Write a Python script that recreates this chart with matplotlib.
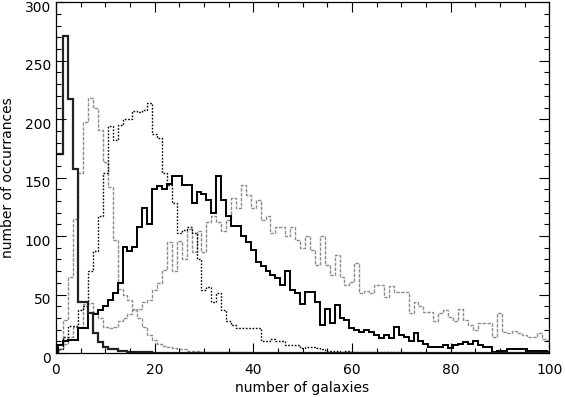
import numpy as np
import matplotlib
matplotlib.use('Agg')
import matplotlib.pyplot as pyplot
import matplotlib.transforms as mtransforms
from matplotlib.ticker import MultipleLocator

# bin centres 0..100 (number of galaxies)
galaxies = np.arange(0, 101)

# thick solid, peak at 2
hist_a = [170, 170, 271, 217, 157, 44, 44, 34, 17, 9, 5, 3, 3, 2, 2, 1, 1, 1, 1, 1] + [0] * 81

# grey dashed, peak near 7
hist_b = [0, 8, 28, 65, 115, 154, 198, 218, 210, 191, 163, 142, 97, 55, 50, 45, 38, 30, 22, 15,
          11, 8, 6, 5, 4, 3, 3, 2, 2, 2, 1, 1, 1, 1, 1, 1, 1, 1, 1, 1] + [0] * 61

# dotted, peak near 19
hist_c = [0, 3, 14, 23, 23, 37, 40, 70, 87, 117, 154, 194, 182, 195, 200, 200, 207, 206, 208, 214,
          187, 184, 154, 144, 128, 103, 105, 108, 103, 80, 54, 56, 44, 51, 37, 27, 24, 21, 21, 21,
          21, 21, 10, 10, 12, 10, 10, 7, 7, 7, 4, 5, 5, 4, 3, 2, 2, 2, 1, 2,
          1, 1, 1, 1, 1, 1, 1, 1, 1, 1, 1] + [0] * 30

# thick solid, broad peak near 25-33
hist_d = [0, 7, 10, 11, 11, 21, 21, 34, 33, 37, 40, 45, 51, 60, 91, 87, 91, 108, 124, 110,
          140, 143, 140, 145, 151, 151, 144, 144, 128, 138, 136, 131, 120, 151, 131, 117, 109, 109, 100, 95,
          88, 78, 74, 70, 67, 64, 58, 70, 54, 51, 42, 52, 52, 44, 24, 38, 26, 41, 30, 28,
          21, 20, 18, 20, 18, 15, 13, 15, 13, 22, 15, 14, 10, 17, 10, 8, 5, 5, 5, 7,
          4, 7, 8, 9, 8, 10, 7, 5, 5, 1, 2, 2, 3, 3, 3, 3, 2, 2, 2, 2, 1]

# grey dashed, broad peak near 38
hist_e = [0, 3, 8, 14, 22, 22, 42, 43, 35, 30, 22, 21, 22, 27, 30, 33, 37, 38, 44, 45,
          54, 60, 71, 95, 70, 96, 80, 106, 86, 104, 86, 112, 117, 112, 104, 114, 133, 124, 144, 135,
          124, 131, 114, 117, 103, 108, 108, 100, 108, 97, 90, 100, 88, 75, 100, 75, 67, 84, 65, 58,
          61, 77, 51, 53, 51, 58, 58, 48, 57, 52, 52, 52, 34, 44, 40, 35, 35, 27, 34, 37,
          31, 27, 38, 28, 24, 20, 26, 26, 26, 14, 34, 18, 17, 19, 17, 15, 14, 14, 17, 12, 10]

pyplot.rcParams.update({'font.size': 10, 'font.family': 'DejaVu Sans'})
fig = pyplot.figure(figsize=(5.65, 3.97), dpi=100)
ax = fig.add_axes([0.099, 0.111, 0.873, 0.883])

edges = np.append(galaxies - 0.5, galaxies[-1] + 0.5)
grey = '#8c8c8c'
ax.stairs(hist_e, edges, color=grey, lw=1.0, ls=(0, (2.5, 1)))
ax.stairs(hist_b, edges, color=grey, lw=1.0, ls=(0, (2.5, 1)))
ax.stairs(hist_c, edges, color='black', lw=1.0, ls=(0, (1.2, 1.2)))
ax.stairs(hist_d, edges, color='black', lw=1.4)
ax.stairs(hist_a, edges, color='#222222', lw=1.6)

ax.set_xlim(0, 100)
ax.set_ylim(0, 300)
ax.xaxis.set_major_locator(MultipleLocator(20))
ax.xaxis.set_minor_locator(MultipleLocator(5))
ax.yaxis.set_major_locator(MultipleLocator(50))
ax.yaxis.set_minor_locator(MultipleLocator(10))
ax.tick_params(which='both', direction='in', top=True, right=True, width=0.8)
ax.tick_params(which='major', length=7)
ax.tick_params(which='minor', length=3.5)
ax.tick_params(axis='x', pad=7)
for s in ax.spines.values():
	s.set_linewidth(0.9)

# y tick labels sit a little below their ticks, as in the original
shift = mtransforms.ScaledTranslation(0, -3 / 72, fig.dpi_scale_trans)
for lab in ax.get_yticklabels():
	lab.set_transform(lab.get_transform() + shift)

ax.set_xlabel('number of galaxies', labelpad=3)
ax.set_ylabel('number of occurrances', labelpad=7)

fig.savefig('out.png', dpi=100)
